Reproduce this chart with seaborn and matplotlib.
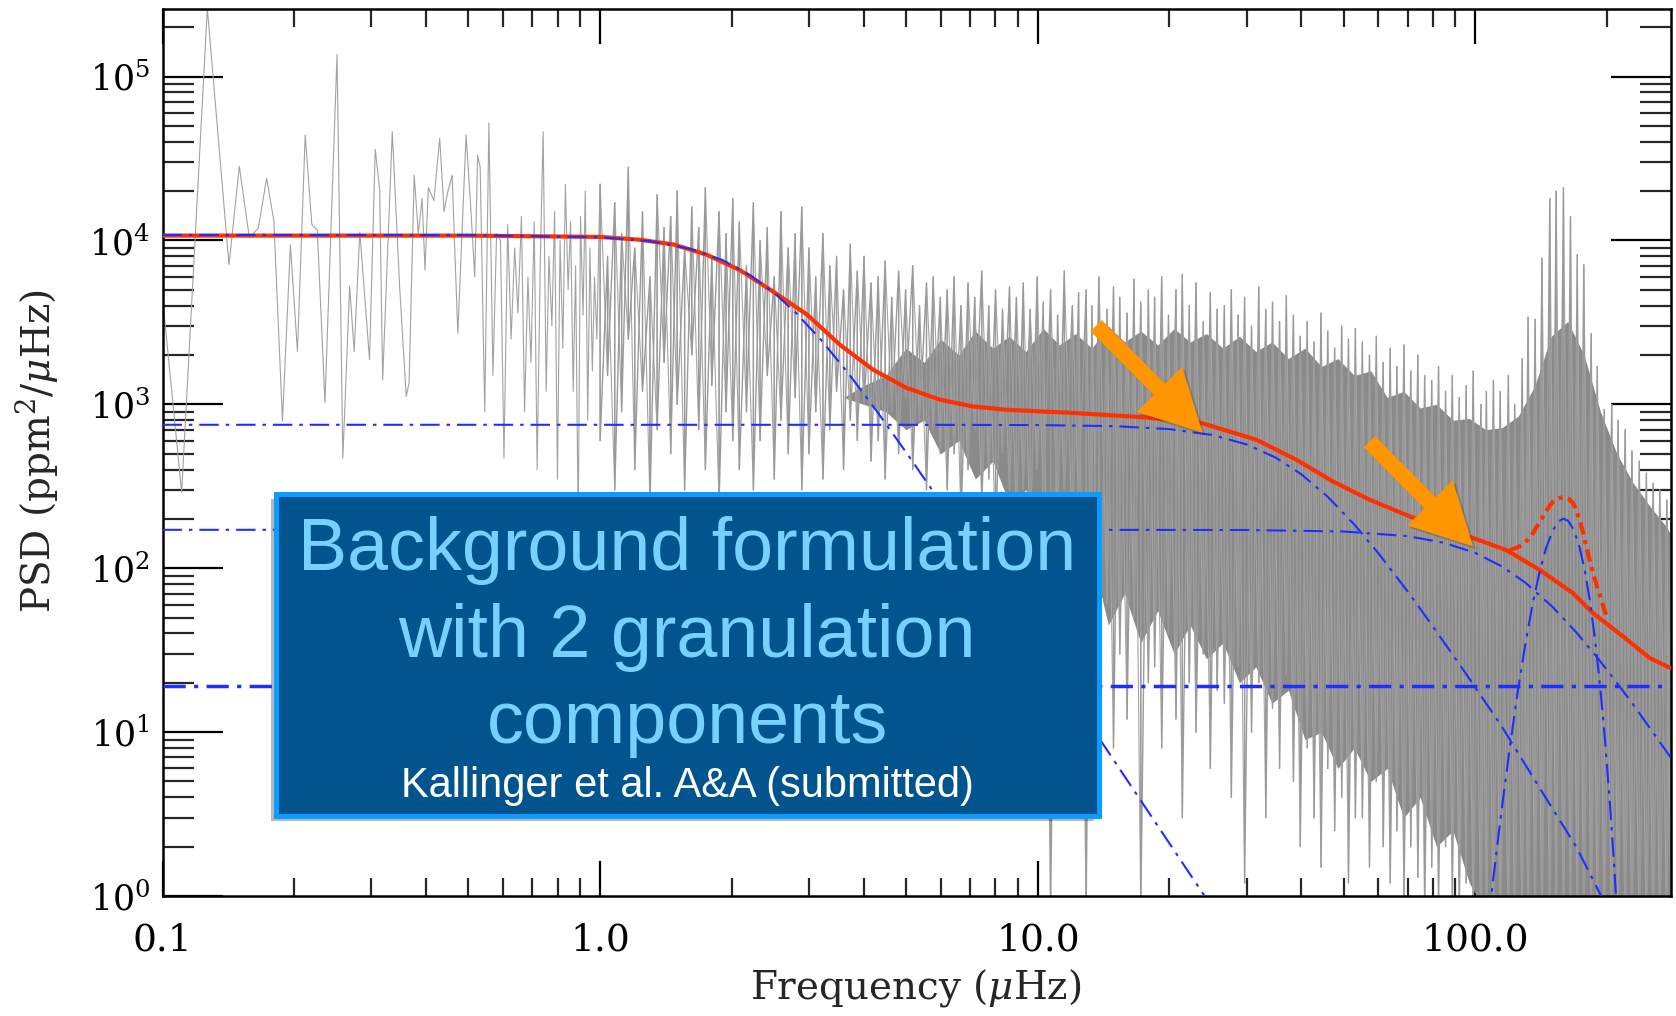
import numpy as np
import matplotlib
matplotlib.use("Agg")
import matplotlib.pyplot as plt
import seaborn as sns
import matplotlib.patheffects as pe
from matplotlib.patches import FancyArrowPatch, Rectangle, ArrowStyle
from matplotlib.ticker import FixedLocator, FixedFormatter, LogLocator, NullFormatter

# ---------------- data ----------------
# low-frequency part of the spectrum (individual bins)
lf_freq = [0.100, 0.1106, 0.1266, 0.1419, 0.1498, 0.1579, 0.1656, 0.1730, 0.1797, 0.188,
           0.196, 0.2034, 0.2119, 0.2194, 0.2258, 0.2351, 0.2505, 0.2583, 0.2677, 0.2742,
           0.2824, 0.2972, 0.3063, 0.3135, 0.3185, 0.335, 0.3482, 0.3605, 0.366, 0.376,
           0.3842, 0.392, 0.398, 0.405, 0.417, 0.430, 0.440, 0.448, 0.459, 0.473,
           0.494, 0.507, 0.517, 0.525, 0.532, 0.545, 0.557, 0.569, 0.580, 0.592,
           0.603, 0.615, 0.626, 0.638, 0.649, 0.661, 0.672, 0.684, 0.695, 0.707,
           0.718, 0.730, 0.741, 0.753, 0.764, 0.776, 0.787, 0.799, 0.810, 0.822,
           0.833, 0.845, 0.856, 0.868, 0.879, 0.891, 0.902, 0.914, 0.925, 0.937,
           0.948, 0.960, 0.971, 0.983, 0.994]
lf_psd = [4500, 290, 2.6e5, 7100, 2.83e4, 1.04e4, 1.19e4, 2.4e4, 1.31e4, 790,
          9400, 2100, 4.4e4, 1.25e4, 1.16e4, 1020, 1.36e5, 470, 5250, 2100,
          1.13e4, 1870, 3.6e4, 2.04e4, 1410, 4.6e4, 5250, 1120, 1350, 2.5e4,
          1.1e4, 1.8e4, 6600, 2.1e4, 1.75e4, 4.2e4, 1.5e4, 1.95e4, 2.5e4, 2700,
          4.4e4, 1.5e4, 6000, 3.3e4, 2.8e4, 900, 5.2e4, 1500, 1.1e4, 1.0e4,
          470, 1.25e4, 2500, 9000, 3600, 1.4e4, 900, 6000, 1800, 1.3e4,
          400, 7500, 4.6e4, 1200, 8000, 3000, 1.5e4, 350, 1.0e4, 2200,
          2.2e4, 5000, 1.3e4, 1200, 7000, 180, 1.4e4, 3500, 2.0e4, 800,
          9000, 1600, 6000, 2500, 1.1e4]

# dense part of the spectrum: spike tips (hi) and dips (lo) at node frequencies
band_freq = [1.00, 1.04, 1.08, 1.12, 1.16, 1.20, 1.25, 1.30, 1.35, 1.40,
             1.45, 1.50, 1.56, 1.62, 1.68, 1.74, 1.80, 1.87, 1.94, 2.01,
             2.08, 2.16, 2.24, 2.32, 2.41, 2.50, 2.59, 2.69, 2.79, 2.89,
             3.00, 3.11, 3.23, 3.35, 3.47, 3.60, 3.73, 3.87, 4.01, 4.16,
             4.32, 4.48, 4.64, 4.81, 4.99, 5.18, 5.37, 5.57, 5.77, 5.99,
             6.21, 6.44, 6.68, 6.93, 7.18, 7.45, 7.73, 8.01, 8.31, 8.62,
             8.94, 9.27, 9.61, 9.97, 10.3, 10.7, 11.1, 11.5, 12.0, 12.4,
             12.9, 13.3, 13.8, 14.4, 14.9, 15.4, 16.0, 16.6, 17.2, 17.9,
             18.5, 19.2, 19.9, 20.7, 21.4, 22.2, 23.0, 23.9, 24.8, 25.7,
             26.7, 27.7, 28.7, 29.7, 30.8, 32.0, 33.2, 34.4, 35.7, 37.0,
             38.4, 39.8, 41.3, 42.8, 44.4, 46.0, 47.7, 49.5, 51.3, 53.2,
             55.2, 57.3, 59.4, 61.6, 63.9, 66.2, 68.7, 71.2, 73.9, 76.6,
             79.5, 82.4, 85.5, 88.6, 91.9, 95.3, 98.9, 103, 106, 110,
             114, 119, 123, 128, 132, 137, 142, 148, 153, 159,
             165, 171, 177, 184, 190, 197, 205, 212, 220, 228,
             237, 246, 255, 264, 274, 280]
band_hi = [2.2e4, 8e3, 1.7e4, 1.1e4, 2.8e4, 9e3, 1.5e4, 6e3, 1.9e4, 1.2e4,
           1.4e4, 2.0e4, 9e3, 1.6e4, 1.2e4, 2.1e4, 8e3, 1.5e4, 1.1e4, 1.8e4,
           1.3e4, 7e3, 1.7e4, 1.0e4, 1.2e4, 6e3, 1.5e4, 9e3, 1.1e4, 1.6e4,
           9e3, 6e3, 1.1e4, 7e3, 8e3, 5e3, 9.5e3, 6.5e3, 8e3, 5.5e3,
           6e3, 7.5e3, 4.5e3, 6.5e3, 5e3, 7e3, 4e3, 5.5e3, 6e3, 4.5e3,
           5e3, 6e3, 4e3, 5.5e3, 4.5e3, 6.5e3, 4e3, 5e3, 3.8e3, 5.2e3,
           4.5e3, 5.5e3, 3.8e3, 6e3, 4.2e3, 5e3, 3.5e3, 6.5e3, 4e3, 4.8e3,
           5e3, 4e3, 6e3, 3.8e3, 5.2e3, 4.5e3, 3.6e3, 5.8e3, 4.2e3, 5e3,
           4.5e3, 6e3, 3.5e3, 5e3, 6.2e3, 4e3, 5.5e3, 3.2e3, 4.8e3, 3.8e3,
           4e3, 5e3, 3.5e3, 4.5e3, 3e3, 5.2e3, 3.8e3, 4.2e3, 3.2e3, 4.6e3,
           3.5e3, 2.6e3, 3.2e3, 2.4e3, 3.6e3, 2.8e3, 2.2e3, 3.0e3, 2.5e3, 2.9e3,
           2.4e3, 2.0e3, 2.6e3, 1.8e3, 2.2e3, 1.7e3, 2.3e3, 1.6e3, 2.0e3, 1.5e3,
           1.4e3, 1.7e3, 1.2e3, 1.5e3, 1.1e3, 1.3e3, 1.6e3, 1.0e3, 1.2e3, 1.4e3,
           1.2e3, 1.5e3, 1.0e3, 1.9e3, 3.4e3, 3.3e3, 7.8e3, 1.8e4, 2.0e4, 2.1e4,
           1.4e4, 8.2e3, 7.1e3, 2.7e3, 1.7e3, 930, 1000, 800, 700, 520,
           450, 380, 330, 300, 260, 240]
band_lo = [600, 1500, 300, 900, 2500, 400, 1200, 250, 700, 1800,
           500, 1000, 300, 2000, 700, 400, 1300, 250, 900, 600,
           400, 900, 300, 600, 1500, 350, 800, 500, 1100, 300,
           500, 900, 350, 700, 1200, 400, 800, 600, 1000, 450,
           600, 350, 900, 500, 1100, 400, 800, 300, 700, 500,
           300, 500, 200, 400, 700, 250, 350, 150, 500, 300,
           200, 300, 150, 400, 250, 0.8, 200, 300, 150, 250,
           0.8, 40, 15, 60, 8, 30, 12, 50, 0.8, 20,
           25, 8, 40, 12, 3, 20, 10, 30, 6, 18,
           15, 4, 25, 1.2, 10, 20, 3, 14, 6, 22,
           5, 2, 8, 3, 1.5, 6, 2.5, 4, 1.2, 3,
           3, 1.5, 5, 2, 1.2, 2.5, 1.0, 2, 1.3, 0.8,
           1.5, 0.9, 2, 1.0, 0.8, 1.2, 0.7, 0.5, 0.5, 0.5,
           0.5, 0.5, 0.5, 0.5, 0.5, 0.5, 0.5, 0.5, 0.5, 0.5,
           0.5, 0.5, 0.5, 0.5, 0.5, 0.5, 0.5, 0.5, 0.5, 0.5,
           0.5, 0.5, 0.5, 0.5, 0.5, 0.5]

# saturated (solid) core of the dense spectrum, upper and lower edge
core_freq = [3.6, 4.0, 4.5, 5.0, 5.5, 6.0, 6.6, 7.2, 7.9, 8.6, 9.4, 10.3,
             11.2, 12.2, 13.3, 14.5, 15.8, 17.2, 18.8, 20.5, 22.3, 24.3,
             26.5, 28.9, 31.5, 34.3, 37.4, 40.8, 44.5, 48.5, 52.9, 57.7,
             62.9, 68.6, 74.8, 81.5, 88.9, 96.9, 105.6, 115.1, 125.5, 136.8,
             149.1, 162.6, 177.2, 193.2, 210.6, 229.6, 250.3, 272.8, 280]
core_hi = [1100, 1300, 1500, 2200, 1800, 2500, 2000, 2800, 2200, 2600, 2100, 2900,
           2300, 2700, 2200, 3000, 2400, 2800, 2300, 2900, 2400, 2700,
           2200, 2600, 2100, 2400, 1900, 2200, 1700, 1900, 1500, 1600,
           1100, 1200, 950, 1000, 800, 820, 700, 720, 850, 1300,
           2600, 3200, 2000, 900, 500, 330, 240, 180, 160]
core_lo = [1100, 1000, 900, 700, 800, 500, 600, 350, 450, 250, 300, 150,
           200, 100, 120, 45, 70, 35, 55, 30, 45, 28,
           35, 20, 25, 15, 18, 9, 10, 6, 8, 5,
           6, 3, 4, 2, 2.5, 1.2, 0.8, 0.8, 0.8, 0.8,
           0.8, 0.8, 0.8, 0.8, 0.8, 0.8, 0.8, 0.8, 0.8]

# fitted background (red solid)
bg_freq = [0.1, 0.5, 1.0, 1.23, 1.47, 1.75, 2.09, 2.48, 2.97, 3.53, 4.20, 5.01, 5.96, 7.09,
           8.45, 12.1, 17.2, 23.65, 31.6, 39.0, 47.3, 57.3, 70.8, 85.8, 98.8, 117.7, 140.3,
           167.2, 185.8, 217.6, 250.3, 280]
bg_psd = [1.07e4, 1.07e4, 1.05e4, 1.01e4, 9450, 8190, 6570, 4890, 3530, 2310, 1630, 1260,
          1070, 971, 927, 885, 836, 769, 608, 459, 338, 262, 207, 171, 153, 129, 97.7,
          70.4, 53.2, 38.3, 28.3, 24.5]

# background + oscillation excess (red dash-dot)
tot_freq = [119.8, 124, 128.5, 131.9, 135.5, 139.1, 142.8, 146.6, 150.5, 154.8, 159.2,
            163.2, 167.2, 170.1, 173.1, 176.2, 179.3, 182.5, 185.8, 190, 194.1, 197.5, 201.1]
tot_psd = [129, 133, 139, 150, 164, 184, 207, 232, 255, 267, 272, 266, 250, 226, 197, 166,
           136, 112, 93.3, 76, 64.1, 55, 48.4]

# components (blue)
c1_freq = [0.1, 0.5, 1.0, 1.3, 1.6, 1.9, 2.2, 2.5, 2.8, 3.2, 3.7, 4.3, 5.0, 6.0, 8.0, 12, 18, 24, 26]
c1_psd = [10800, 10780, 10460, 9890, 8916, 7605, 6154, 4781, 3623, 2466, 1534, 898, 511,
          252.5, 81.2, 16.1, 3.19, 1.01, 0.73]
c2_freq = [0.1, 5, 10, 15, 20, 25, 30, 35, 40, 46, 53, 60, 70, 80, 95, 115, 140, 170, 200, 230]
c2_psd = [750, 749.8, 747.1, 735.5, 705.9, 650.7, 569.7, 472.8, 375, 272.8, 183.7, 123.7,
          72.3, 44.1, 22.9, 10.8, 4.6, 2.0, 0.85, 0.45]
c3_freq = [0.1, 10, 30, 50, 70, 85, 100, 115, 130, 150, 170, 190, 210, 230, 255, 280]
c3_psd = [171.5, 171.5, 171.0, 167.5, 157.0, 142.8, 123.9, 102.6, 81.8, 58.2, 40.7, 28.5,
          20.2, 14.6, 9.9, 6.96]
white_freq = [0.1, 280]
white_psd = [19.2, 19.2]
gauss_freq = [105, 110, 115, 120, 125, 130, 135, 140, 145, 150, 155, 159, 163, 168, 173,
              178, 183, 188, 193, 198, 203, 208, 213]
gauss_psd = [0.44, 1.30, 3.44, 8.19, 17.6, 34.0, 59.3, 93.1, 131.8, 168.1, 193.3, 200.5,
             194.6, 170.6, 134.9, 96.1, 61.7, 35.7, 18.6, 8.74, 3.70, 1.41, 0.49]

# arrows (tail -> tip, data coordinates)
arrow_tails = [(13.6, 3020), (57.3, 591)]
arrow_tips = [(23.8, 671), (98.8, 136)]

x_ticks = [0.1, 1, 10, 100]
x_ticklabels = ["0.1", "1.0", "10.0", "100.0"]
y_ticks = [1, 10, 100, 1e3, 1e4, 1e5]
y_ticklabels = [r"$10^{0}$", r"$10^{1}$", r"$10^{2}$", r"$10^{3}$", r"$10^{4}$", r"$10^{5}$"]

box_lines = ["Background formulation", "with 2 granulation", "components"]
box_note = "Kallinger et al. A&A (submitted)"

# ---------------- style ----------------
sns.set_style("white")
plt.rcParams.update({
    "font.family": ["DejaVu Serif"],
    "mathtext.fontset": "dejavuserif",
    "lines.scale_dashes": False,
    "axes.linewidth": 1.8,
})

W, H = 1676, 1016
fig = plt.figure(figsize=(W / 100, H / 100), dpi=100)
fig.patch.set_facecolor("white")
ax = fig.add_axes([162.5 / W, 1 - 896 / H, (1671 - 162.5) / W, (896 - 8.5) / H])
ax.set_facecolor("white")
ax.set_xscale("log")
ax.set_yscale("log")

# ---------------- spectrum ----------------
n = min(len(band_freq), len(band_hi), len(band_lo))
zig_x = np.repeat(np.asarray(band_freq[:n], float), 2)
zig_up = np.column_stack([band_hi[:n], band_lo[:n]]).ravel()
zig_dn = np.column_stack([band_lo[:n], band_hi[:n]]).ravel()
m = min(len(lf_freq), len(lf_psd))
k = min(len(core_freq), len(core_hi), len(core_lo))
ax.fill_between(core_freq[:k], core_lo[:k], core_hi[:k], color="#8a8a8a", lw=0, zorder=1)
ax.plot(lf_freq[:m] + [band_freq[0]], lf_psd[:m] + [band_hi[0]], color="#a2a2a2", lw=0.8, zorder=1.5)
ax.plot(zig_x, zig_up, color="#9a9a9a", lw=1.0, zorder=1.5)
ax.plot(zig_x, zig_dn, color="#a4a4a4", lw=0.8, zorder=1.4)

# ---------------- model curves ----------------
red = "#ff3000"
blue = "#1f2eff"
thin_dd = (0, (14, 5, 2.5, 5))
thick_dd = (0, (16, 6, 3, 6))

sns.lineplot(x=bg_freq, y=bg_psd, ax=ax, color=red, lw=3.0, estimator=None, sort=False,
             legend=False, zorder=3)
sns.lineplot(x=tot_freq, y=tot_psd, ax=ax, color=red, lw=3.0, linestyle=(0, (9, 4, 3, 4)),
             estimator=None, sort=False, legend=False, zorder=3)
for fx, fy in [(c1_freq, c1_psd), (c2_freq, c2_psd), (c3_freq, c3_psd), (gauss_freq, gauss_psd)]:
    sns.lineplot(x=fx, y=fy, ax=ax, color=blue, lw=1.5, linestyle=thin_dd,
                 estimator=None, sort=False, legend=False, zorder=4)
sns.lineplot(x=white_freq, y=white_psd, ax=ax, color=blue, lw=2.5, linestyle=thick_dd,
             estimator=None, sort=False, legend=False, zorder=4)

ax.set_xlim(0.1, 280)
ax.set_ylim(1, 2.6e5)

# ---------------- arrows ----------------
for tail, tip in zip(arrow_tails, arrow_tips):
    arr = FancyArrowPatch(tail, tip, transform=ax.transData,
                          arrowstyle=ArrowStyle.Simple(head_length=44, head_width=46, tail_width=11.5),
                          mutation_scale=1, shrinkA=0, shrinkB=0,
                          facecolor="#ff9500", edgecolor="none", zorder=6)
    arr.set_path_effects([pe.SimplePatchShadow(offset=(2, -2), alpha=0.25), pe.Normal()])
    ax.add_patch(arr)

# ---------------- axes styling ----------------
ax.xaxis.set_major_locator(FixedLocator(x_ticks))
ax.xaxis.set_major_formatter(FixedFormatter(x_ticklabels))
ax.xaxis.set_minor_locator(LogLocator(base=10, subs=np.arange(2, 10), numticks=50))
ax.xaxis.set_minor_formatter(NullFormatter())
ax.yaxis.set_major_locator(FixedLocator(y_ticks))
ax.yaxis.set_major_formatter(FixedFormatter(y_ticklabels))
ax.yaxis.set_minor_locator(LogLocator(base=10, subs=np.arange(2, 10), numticks=50))
ax.yaxis.set_minor_formatter(NullFormatter())

ax.tick_params(axis="x", which="major", direction="in", length=25, width=1.6,
               top=True, bottom=True, labelsize=27, pad=19, colors="black")
ax.tick_params(axis="x", which="minor", direction="in", length=13, width=1.6,
               top=True, bottom=True)
ax.tick_params(axis="y", which="major", direction="in", length=43, width=1.6,
               left=True, right=True, labelsize=25, pad=9, colors="black")
ax.tick_params(axis="y", which="minor", direction="in", length=22, width=1.6,
               left=True, right=True)
for s in ax.spines.values():
    s.set_visible(True)
    s.set_color("black")
    s.set_linewidth(1.8)
ax.set_xlabel("")
ax.set_ylabel("")

fig.text(916 / W, 1 - 988 / H, r"Frequency ($\mu$Hz)", ha="center", va="center", fontsize=28)
fig.text(37 / W, 1 - 451 / H, r"PSD (ppm$^2$/$\mu$Hz)", ha="center", va="center",
         rotation=90, fontsize=28)

# ---------------- text box ----------------
bx0, bx1, by0, by1 = 275.5, 1098.5, 493.5, 815.5
rect = Rectangle((bx0 / W, 1 - by1 / H), (bx1 - bx0) / W, (by1 - by0) / H,
                 transform=fig.transFigure, facecolor="#02548f", edgecolor="#0a9cff",
                 linewidth=3.6, zorder=10)
rect.set_path_effects([pe.SimplePatchShadow(offset=(-3, -4), alpha=0.3), pe.Normal()])
fig.add_artist(rect)
cx = 687 / W
for txt, base in zip(box_lines, [570, 657, 743]):
    fig.text(cx, 1 - base / H, txt, ha="center", va="baseline", fontsize=53,
             color="#76d1ff", family=["Liberation Sans", "DejaVu Sans"], zorder=11)
fig.text(cx, 1 - 797 / H, box_note, ha="center", va="baseline", fontsize=30,
         color="white", family=["Liberation Sans", "DejaVu Sans"], zorder=11)

fig.savefig("out.png", dpi=100, facecolor="white")
